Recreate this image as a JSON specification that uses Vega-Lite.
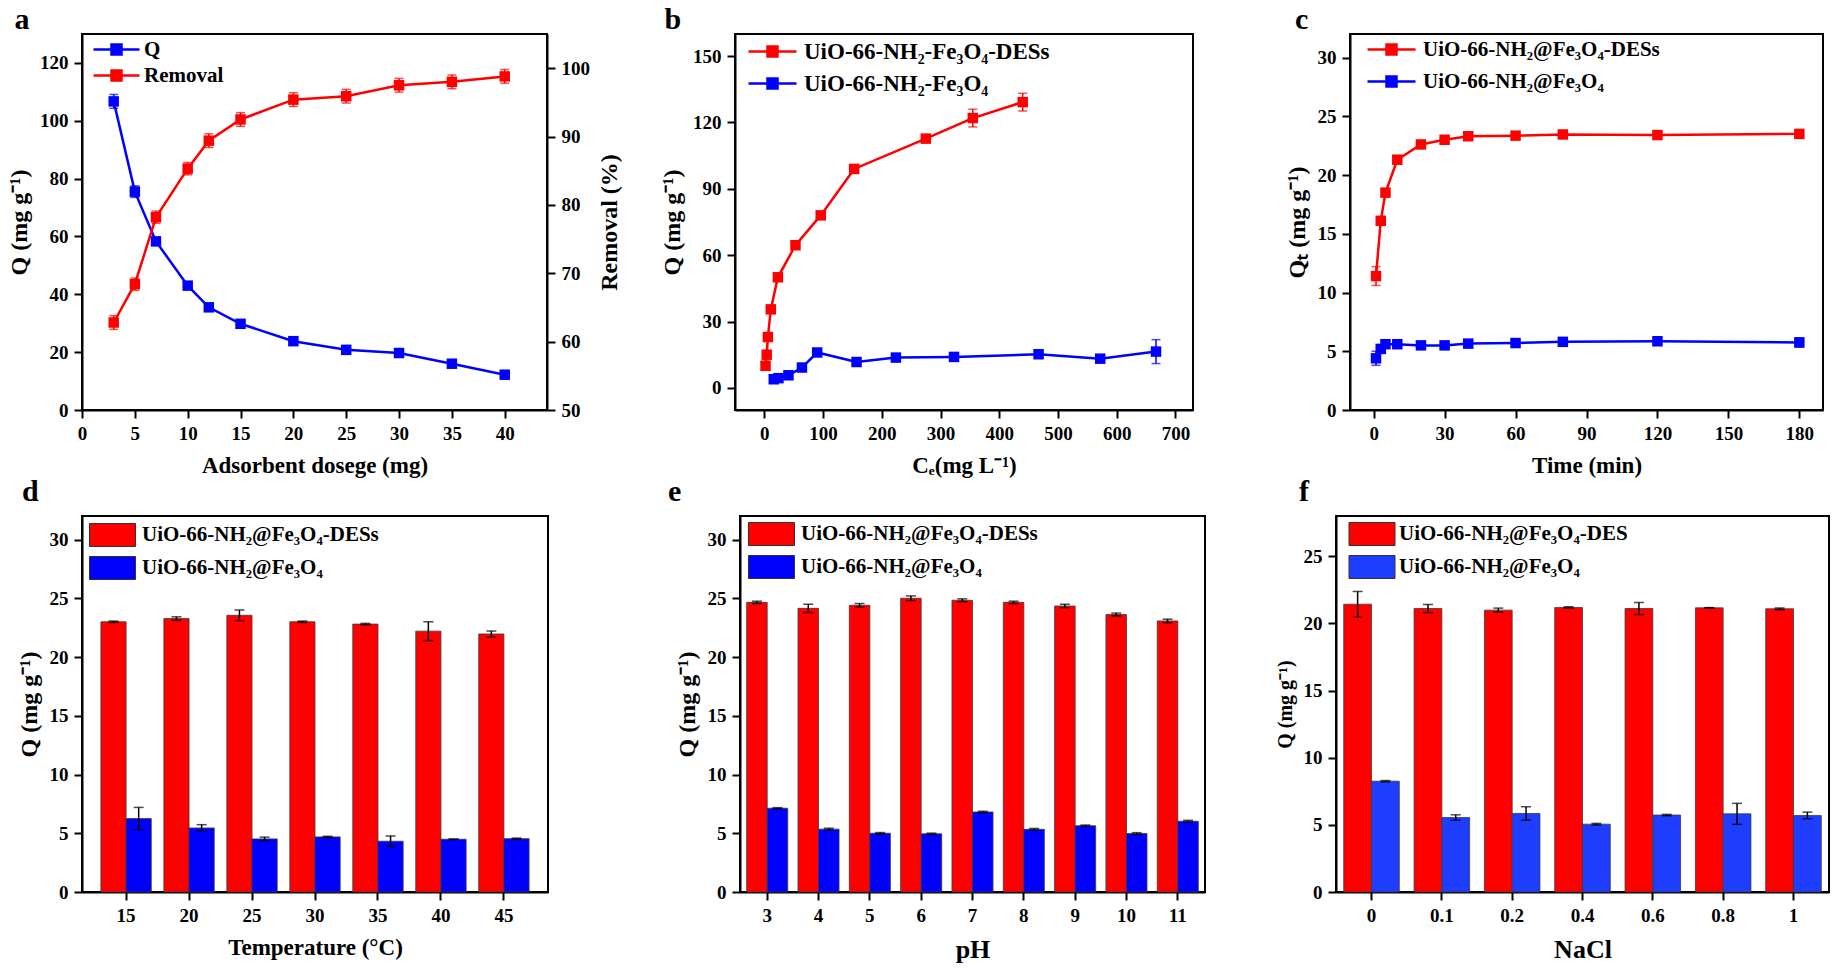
{
  "$schema": "https://vega.github.io/schema/vega-lite/v6.json",
  "background": "white",
  "padding": {"left": 6, "top": 4, "right": 0, "bottom": 0},
  "datasets": {
    "dosage": [
      {"dose": 3, "series": "Q", "value": 106.7, "err": 2.4},
      {"dose": 5, "series": "Q", "value": 75.5, "err": 2.0},
      {"dose": 7, "series": "Q", "value": 58.3, "err": 0.9},
      {"dose": 10, "series": "Q", "value": 43.0, "err": 0.8},
      {"dose": 12, "series": "Q", "value": 35.5, "err": 0.8},
      {"dose": 15, "series": "Q", "value": 29.8, "err": 0.8},
      {"dose": 20, "series": "Q", "value": 23.8, "err": 0.8},
      {"dose": 25, "series": "Q", "value": 20.8, "err": 0.8},
      {"dose": 30, "series": "Q", "value": 19.7, "err": 0.8},
      {"dose": 35, "series": "Q", "value": 16.0, "err": 0.8},
      {"dose": 40, "series": "Q", "value": 12.2, "err": 0.8},
      {"dose": 3, "series": "Removal", "value": 62.8, "err": 1.0},
      {"dose": 5, "series": "Removal", "value": 68.4, "err": 0.9},
      {"dose": 7, "series": "Removal", "value": 78.2, "err": 0.9},
      {"dose": 10, "series": "Removal", "value": 85.3, "err": 0.9},
      {"dose": 12, "series": "Removal", "value": 89.4, "err": 1.0},
      {"dose": 15, "series": "Removal", "value": 92.5, "err": 1.0},
      {"dose": 20, "series": "Removal", "value": 95.4, "err": 1.0},
      {"dose": 25, "series": "Removal", "value": 95.9, "err": 1.0},
      {"dose": 30, "series": "Removal", "value": 97.5, "err": 1.0},
      {"dose": 35, "series": "Removal", "value": 98.0, "err": 1.0},
      {"dose": 40, "series": "Removal", "value": 98.8, "err": 1.0}
    ],
    "isotherm": [
      {"ce": 2, "series": "UiO-66-NH₂-Fe₃O₄-DESs", "q": 10.0, "err": 0.5},
      {"ce": 4, "series": "UiO-66-NH₂-Fe₃O₄-DESs", "q": 15.0, "err": 0.5},
      {"ce": 6, "series": "UiO-66-NH₂-Fe₃O₄-DESs", "q": 23.0, "err": 0.5},
      {"ce": 11, "series": "UiO-66-NH₂-Fe₃O₄-DESs", "q": 35.5, "err": 0.5},
      {"ce": 23, "series": "UiO-66-NH₂-Fe₃O₄-DESs", "q": 50.0, "err": 0.5},
      {"ce": 53, "series": "UiO-66-NH₂-Fe₃O₄-DESs", "q": 64.5, "err": 0.5},
      {"ce": 96, "series": "UiO-66-NH₂-Fe₃O₄-DESs", "q": 78.0, "err": 0.5},
      {"ce": 153, "series": "UiO-66-NH₂-Fe₃O₄-DESs", "q": 99.0, "err": 0.5},
      {"ce": 275, "series": "UiO-66-NH₂-Fe₃O₄-DESs", "q": 112.7, "err": 1.0},
      {"ce": 355, "series": "UiO-66-NH₂-Fe₃O₄-DESs", "q": 122.0, "err": 4.0},
      {"ce": 440, "series": "UiO-66-NH₂-Fe₃O₄-DESs", "q": 129.2, "err": 4.0},
      {"ce": 16, "series": "UiO-66-NH₂-Fe₃O₄", "q": 3.9, "err": 0.5},
      {"ce": 24, "series": "UiO-66-NH₂-Fe₃O₄", "q": 4.4, "err": 0.5},
      {"ce": 41, "series": "UiO-66-NH₂-Fe₃O₄", "q": 5.7, "err": 0.5},
      {"ce": 64, "series": "UiO-66-NH₂-Fe₃O₄", "q": 9.2, "err": 0.5},
      {"ce": 90, "series": "UiO-66-NH₂-Fe₃O₄", "q": 16.0, "err": 0.5},
      {"ce": 157, "series": "UiO-66-NH₂-Fe₃O₄", "q": 11.7, "err": 0.5},
      {"ce": 224, "series": "UiO-66-NH₂-Fe₃O₄", "q": 13.7, "err": 0.5},
      {"ce": 323, "series": "UiO-66-NH₂-Fe₃O₄", "q": 14.0, "err": 0.5},
      {"ce": 467, "series": "UiO-66-NH₂-Fe₃O₄", "q": 15.2, "err": 0.5},
      {"ce": 572, "series": "UiO-66-NH₂-Fe₃O₄", "q": 13.2, "err": 0.5},
      {"ce": 667, "series": "UiO-66-NH₂-Fe₃O₄", "q": 16.4, "err": 5.4}
    ],
    "kinetics": [
      {"t": 1, "series": "UiO-66-NH₂@Fe₃O₄-DESs", "q": 11.4, "err": 0.8},
      {"t": 3, "series": "UiO-66-NH₂@Fe₃O₄-DESs", "q": 16.1, "err": 0.3},
      {"t": 5, "series": "UiO-66-NH₂@Fe₃O₄-DESs", "q": 18.5, "err": 0.2},
      {"t": 10, "series": "UiO-66-NH₂@Fe₃O₄-DESs", "q": 21.3, "err": 0.3},
      {"t": 20, "series": "UiO-66-NH₂@Fe₃O₄-DESs", "q": 22.6, "err": 0.2},
      {"t": 30, "series": "UiO-66-NH₂@Fe₃O₄-DESs", "q": 23.0, "err": 0.2},
      {"t": 40, "series": "UiO-66-NH₂@Fe₃O₄-DESs", "q": 23.3, "err": 0.2},
      {"t": 60, "series": "UiO-66-NH₂@Fe₃O₄-DESs", "q": 23.35, "err": 0.2},
      {"t": 80, "series": "UiO-66-NH₂@Fe₃O₄-DESs", "q": 23.45, "err": 0.2},
      {"t": 120, "series": "UiO-66-NH₂@Fe₃O₄-DESs", "q": 23.4, "err": 0.2},
      {"t": 180, "series": "UiO-66-NH₂@Fe₃O₄-DESs", "q": 23.5, "err": 0.2},
      {"t": 1, "series": "UiO-66-NH₂@Fe₃O₄", "q": 4.4, "err": 0.6},
      {"t": 3, "series": "UiO-66-NH₂@Fe₃O₄", "q": 5.2, "err": 0.3},
      {"t": 5, "series": "UiO-66-NH₂@Fe₃O₄", "q": 5.6, "err": 0.3},
      {"t": 10, "series": "UiO-66-NH₂@Fe₃O₄", "q": 5.6, "err": 0.3},
      {"t": 20, "series": "UiO-66-NH₂@Fe₃O₄", "q": 5.5, "err": 0.2},
      {"t": 30, "series": "UiO-66-NH₂@Fe₃O₄", "q": 5.5, "err": 0.2},
      {"t": 40, "series": "UiO-66-NH₂@Fe₃O₄", "q": 5.65, "err": 0.2},
      {"t": 60, "series": "UiO-66-NH₂@Fe₃O₄", "q": 5.7, "err": 0.2},
      {"t": 80, "series": "UiO-66-NH₂@Fe₃O₄", "q": 5.8, "err": 0.2},
      {"t": 120, "series": "UiO-66-NH₂@Fe₃O₄", "q": 5.85, "err": 0.2},
      {"t": 180, "series": "UiO-66-NH₂@Fe₃O₄", "q": 5.75, "err": 0.4}
    ],
    "temperature": [
      {"temp": "15", "series": "UiO-66-NH₂@Fe₃O₄-DESs", "q": 23.0, "err": 0.06},
      {"temp": "15", "series": "UiO-66-NH₂@Fe₃O₄", "q": 6.25, "err": 0.95},
      {"temp": "20", "series": "UiO-66-NH₂@Fe₃O₄-DESs", "q": 23.27, "err": 0.15},
      {"temp": "20", "series": "UiO-66-NH₂@Fe₃O₄", "q": 5.45, "err": 0.28},
      {"temp": "25", "series": "UiO-66-NH₂@Fe₃O₄-DESs", "q": 23.55, "err": 0.45},
      {"temp": "25", "series": "UiO-66-NH₂@Fe₃O₄", "q": 4.52, "err": 0.15},
      {"temp": "30", "series": "UiO-66-NH₂@Fe₃O₄-DESs", "q": 23.0, "err": 0.06},
      {"temp": "30", "series": "UiO-66-NH₂@Fe₃O₄", "q": 4.69, "err": 0.05},
      {"temp": "35", "series": "UiO-66-NH₂@Fe₃O₄-DESs", "q": 22.8, "err": 0.06},
      {"temp": "35", "series": "UiO-66-NH₂@Fe₃O₄", "q": 4.32, "err": 0.45},
      {"temp": "40", "series": "UiO-66-NH₂@Fe₃O₄-DESs", "q": 22.2, "err": 0.8},
      {"temp": "40", "series": "UiO-66-NH₂@Fe₃O₄", "q": 4.49, "err": 0.03},
      {"temp": "45", "series": "UiO-66-NH₂@Fe₃O₄-DESs", "q": 21.96, "err": 0.25},
      {"temp": "45", "series": "UiO-66-NH₂@Fe₃O₄", "q": 4.54, "err": 0.05}
    ],
    "ph": [
      {"ph": "3", "series": "UiO-66-NH₂@Fe₃O₄-DESs", "q": 24.65, "err": 0.1},
      {"ph": "3", "series": "UiO-66-NH₂@Fe₃O₄", "q": 7.13, "err": 0.05},
      {"ph": "4", "series": "UiO-66-NH₂@Fe₃O₄-DESs", "q": 24.14, "err": 0.35},
      {"ph": "4", "series": "UiO-66-NH₂@Fe₃O₄", "q": 5.35, "err": 0.08},
      {"ph": "5", "series": "UiO-66-NH₂@Fe₃O₄-DESs", "q": 24.4, "err": 0.15},
      {"ph": "5", "series": "UiO-66-NH₂@Fe₃O₄", "q": 5.0, "err": 0.06},
      {"ph": "6", "series": "UiO-66-NH₂@Fe₃O₄-DESs", "q": 25.0, "err": 0.2},
      {"ph": "6", "series": "UiO-66-NH₂@Fe₃O₄", "q": 4.95, "err": 0.06},
      {"ph": "7", "series": "UiO-66-NH₂@Fe₃O₄-DESs", "q": 24.83, "err": 0.12},
      {"ph": "7", "series": "UiO-66-NH₂@Fe₃O₄", "q": 6.81, "err": 0.06},
      {"ph": "8", "series": "UiO-66-NH₂@Fe₃O₄-DESs", "q": 24.65, "err": 0.1},
      {"ph": "8", "series": "UiO-66-NH₂@Fe₃O₄", "q": 5.33, "err": 0.08},
      {"ph": "9", "series": "UiO-66-NH₂@Fe₃O₄-DESs", "q": 24.34, "err": 0.15},
      {"ph": "9", "series": "UiO-66-NH₂@Fe₃O₄", "q": 5.64, "err": 0.06},
      {"ph": "10", "series": "UiO-66-NH₂@Fe₃O₄-DESs", "q": 23.62, "err": 0.12},
      {"ph": "10", "series": "UiO-66-NH₂@Fe₃O₄", "q": 4.97, "err": 0.08},
      {"ph": "11", "series": "UiO-66-NH₂@Fe₃O₄-DESs", "q": 23.07, "err": 0.15},
      {"ph": "11", "series": "UiO-66-NH₂@Fe₃O₄", "q": 6.02, "err": 0.08}
    ],
    "nacl": [
      {"nacl": "0", "series": "UiO-66-NH₂@Fe₃O₄-DES", "q": 21.43, "err": 0.95},
      {"nacl": "0", "series": "UiO-66-NH₂@Fe₃O₄", "q": 8.25, "err": 0.05},
      {"nacl": "0.1", "series": "UiO-66-NH₂@Fe₃O₄-DES", "q": 21.11, "err": 0.3},
      {"nacl": "0.1", "series": "UiO-66-NH₂@Fe₃O₄", "q": 5.55, "err": 0.2},
      {"nacl": "0.2", "series": "UiO-66-NH₂@Fe₃O₄-DES", "q": 20.99, "err": 0.15},
      {"nacl": "0.2", "series": "UiO-66-NH₂@Fe₃O₄", "q": 5.85, "err": 0.5},
      {"nacl": "0.4", "series": "UiO-66-NH₂@Fe₃O₄-DES", "q": 21.19, "err": 0.05},
      {"nacl": "0.4", "series": "UiO-66-NH₂@Fe₃O₄", "q": 5.05, "err": 0.06},
      {"nacl": "0.6", "series": "UiO-66-NH₂@Fe₃O₄-DES", "q": 21.11, "err": 0.45},
      {"nacl": "0.6", "series": "UiO-66-NH₂@Fe₃O₄", "q": 5.73, "err": 0.05},
      {"nacl": "0.8", "series": "UiO-66-NH₂@Fe₃O₄-DES", "q": 21.16, "err": 0.02},
      {"nacl": "0.8", "series": "UiO-66-NH₂@Fe₃O₄", "q": 5.82, "err": 0.78},
      {"nacl": "1", "series": "UiO-66-NH₂@Fe₃O₄-DES", "q": 21.09, "err": 0.06},
      {"nacl": "1", "series": "UiO-66-NH₂@Fe₃O₄", "q": 5.7, "err": 0.25}
    ]
  },
  "bounds": "flush",
  "spacing": 482,
  "resolve": {"scale": {"color": "independent", "xOffset": "independent"}, "legend": {"color": "independent"}},
  "vconcat": [
    {
      "bounds": "flush",
      "spacing": 188,
      "resolve": {"scale": {"color": "independent", "xOffset": "independent"}, "legend": {"color": "independent"}},
      "hconcat": [
        {
          "width": 465,
          "height": 376,
          "title": {"text": "a", "dx": 7, "offset": -1},
          "data": {"name": "dosage"},
          "encoding": {
            "x": {"field": "dose", "type": "quantitative", "scale": {"domain": [0, 44], "nice": false, "zero": false}, "axis": {"values": [0, 5, 10, 15, 20, 25, 30, 35, 40], "title": "Adsorbent dosege (mg)"}},
            "color": {
              "field": "series", "type": "nominal",
              "scale": {"domain": ["Q", "Removal"], "range": ["#0000FF", "#FF0000"]},
              "legend": {
                "title": null, "orient": "none", "legendX": 23, "legendY": 4,
                "symbolType": "M-2.3,0H2.3M-0.5,-0.5H0.5V0.5H-0.5Z", "symbolSize": 400, "symbolStrokeWidth": 2.5,
                "labelOffset": 16, "rowPadding": 4, "labelFontSize": 21,
                "encode": {"symbols": {"update": {
                  "fill": {"signal": "datum.value === 'Q' ? '#0000FF' : '#FF0000'"},
                  "stroke": {"signal": "datum.value === 'Q' ? '#0000FF' : '#FF0000'"}
                }}}
              }
            }
          },
          "layer": [
            {
              "transform": [{"filter": "datum.series === 'Q'"}],
              "encoding": {"y": {"field": "value", "type": "quantitative", "scale": {"domain": [0, 130], "nice": false}, "axis": {"values": [0, 20, 40, 60, 80, 100, 120], "title": "Q (mg g⁻¹)", "titleFontSize": 24}}},
              "layer": [
                {"mark": {"type": "errorbar", "thickness": 1.5, "ticks": {"size": 9, "thickness": 1.5}}, "encoding": {"yError": {"field": "err"}}},
                {"mark": {"type": "line", "strokeWidth": 2.5, "point": {"shape": "square", "size": 110, "filled": true, "opacity": 1}}}
              ]
            },
            {
              "transform": [{"filter": "datum.series === 'Removal'"}],
              "encoding": {"y": {"field": "value", "type": "quantitative", "scale": {"domain": [50, 105], "nice": false, "zero": false}, "axis": {"orient": "right", "values": [50, 60, 70, 80, 90, 100], "title": "Removal (%)", "titleAngle": 270, "titleBaseline": "top", "titleFontSize": 24}}},
              "layer": [
                {"mark": {"type": "errorbar", "thickness": 1.5, "ticks": {"size": 9, "thickness": 1.5}}, "encoding": {"yError": {"field": "err"}}},
                {"mark": {"type": "line", "strokeWidth": 2.5, "point": {"shape": "square", "size": 110, "filled": true, "opacity": 1}}}
              ]
            }
          ],
          "resolve": {"scale": {"y": "independent"}, "axis": {"y": "independent"}}
        },
        {
          "bounds": "flush",
          "spacing": 157,
          "resolve": {"scale": {"color": "independent", "xOffset": "independent"}, "legend": {"color": "independent"}},
          "hconcat": [
            {
              "width": 458,
              "height": 376,
              "title": {"text": "b", "dx": 4, "offset": -1},
              "data": {"name": "isotherm"},
              "encoding": {
                "x": {"field": "ce", "type": "quantitative", "scale": {"domain": [-50, 730], "nice": false, "zero": false}, "axis": {"values": [0, 100, 200, 300, 400, 500, 600, 700], "title": "Cₑ(mg L⁻¹)"}},
                "y": {"field": "q", "type": "quantitative", "scale": {"domain": [-10, 160], "nice": false, "zero": false}, "axis": {"values": [0, 30, 60, 90, 120, 150], "title": "Q (mg g⁻¹)", "titleFontSize": 24}},
                "color": {
                  "field": "series", "type": "nominal",
                  "scale": {"domain": ["UiO-66-NH₂-Fe₃O₄-DESs", "UiO-66-NH₂-Fe₃O₄"], "range": ["#FF0000", "#0000FF"]},
                  "legend": {
                    "title": null, "orient": "none", "legendX": 26, "legendY": 6,
                    "symbolType": "M-2.4,0H2.4M-0.5,-0.5H0.5V0.5H-0.5Z", "symbolSize": 400, "symbolStrokeWidth": 2.5,
                    "labelOffset": 20, "rowPadding": 8, "labelFontSize": 23,
                    "encode": {"symbols": {"update": {
                      "fill": {"signal": "indexof(datum.value, 'DES') >= 0 ? '#FF0000' : '#0000FF'"},
                      "stroke": {"signal": "indexof(datum.value, 'DES') >= 0 ? '#FF0000' : '#0000FF'"}
                    }}}
                  }
                }
              },
              "layer": [
                {"mark": {"type": "errorbar", "thickness": 1.5, "ticks": {"size": 9, "thickness": 1.5}}, "encoding": {"yError": {"field": "err"}}},
                {"mark": {"type": "line", "strokeWidth": 2.5, "point": {"shape": "square", "size": 110, "filled": true, "opacity": 1}}}
              ]
            },
            {
              "width": 473,
              "height": 376,
              "title": {"text": "c", "dx": 10, "offset": -1},
              "data": {"name": "kinetics"},
              "encoding": {
                "x": {"field": "t", "type": "quantitative", "scale": {"domain": [-10, 190], "nice": false, "zero": false}, "axis": {"values": [0, 30, 60, 90, 120, 150, 180], "title": "Time (min)"}},
                "y": {"field": "q", "type": "quantitative", "scale": {"domain": [0, 32], "nice": false}, "axis": {"values": [0, 5, 10, 15, 20, 25, 30], "title": "Qₜ (mg g⁻¹)", "titleFontSize": 24}},
                "color": {
                  "field": "series", "type": "nominal",
                  "scale": {"domain": ["UiO-66-NH₂@Fe₃O₄-DESs", "UiO-66-NH₂@Fe₃O₄"], "range": ["#FF0000", "#0000FF"]},
                  "legend": {
                    "title": null, "orient": "none", "legendX": 30, "legendY": 4,
                    "symbolType": "M-2.4,0H2.4M-0.5,-0.5H0.5V0.5H-0.5Z", "symbolSize": 400, "symbolStrokeWidth": 2.5,
                    "labelOffset": 20, "rowPadding": 10, "labelFontSize": 21,
                    "encode": {"symbols": {"update": {
                      "fill": {"signal": "indexof(datum.value, 'DES') >= 0 ? '#FF0000' : '#0000FF'"},
                      "stroke": {"signal": "indexof(datum.value, 'DES') >= 0 ? '#FF0000' : '#0000FF'"}
                    }}}
                  }
                }
              },
              "layer": [
                {"mark": {"type": "errorbar", "thickness": 1.5, "ticks": {"size": 9, "thickness": 1.5}}, "encoding": {"yError": {"field": "err"}}},
                {"mark": {"type": "line", "strokeWidth": 2.5, "point": {"shape": "square", "size": 110, "filled": true, "opacity": 1}}}
              ]
            }
          ]
        }
      ]
    },
    {
      "bounds": "flush",
      "spacing": 192,
      "resolve": {"scale": {"color": "independent", "xOffset": "independent"}, "legend": {"color": "independent"}},
      "hconcat": [
        {
          "width": 466,
          "height": 376,
          "title": {"text": "d", "dx": 5, "offset": 9},
          "data": {"name": "temperature"},
          "encoding": {
            "x": {"field": "temp", "type": "ordinal", "sort": null, "scale": {"paddingInner": 0.2, "paddingOuter": 0.3}, "axis": {"labelAngle": 0, "title": "Temperature (°C)"}},
            "xOffset": {"field": "series", "type": "nominal", "sort": null, "scale": {"domain": ["UiO-66-NH₂@Fe₃O₄-DESs", "UiO-66-NH₂@Fe₃O₄"]}},
            "y": {"field": "q", "type": "quantitative", "scale": {"domain": [0, 32], "nice": false}, "axis": {"values": [0, 5, 10, 15, 20, 25, 30], "title": "Q (mg g⁻¹)", "titleFontSize": 24}}
          },
          "layer": [
            {
              "mark": {"type": "bar", "stroke": "#3a3a3a", "strokeWidth": 0.8},
              "encoding": {"color": {
                "field": "series", "type": "nominal",
                "scale": {"domain": ["UiO-66-NH₂@Fe₃O₄-DESs", "UiO-66-NH₂@Fe₃O₄"], "range": ["#FF0000", "#0000FF"]},
                "legend": {"title": null, "orient": "none", "legendX": 18.5, "legendY": 7, "symbolType": "M-2,-1H2V1H-2Z", "symbolSize": 529, "symbolStrokeColor": "#333333", "symbolStrokeWidth": 1, "labelOffset": 17.5, "rowPadding": 5}
              }}
            },
            {"mark": {"type": "errorbar", "color": "black", "thickness": 1.5, "ticks": {"size": 10, "thickness": 1.5}}, "encoding": {"yError": {"field": "err"}}}
          ]
        },
        {
          "bounds": "flush",
          "spacing": 131,
          "resolve": {"scale": {"color": "independent", "xOffset": "independent"}, "legend": {"color": "independent"}},
          "hconcat": [
            {
              "width": 465,
              "height": 376,
              "title": {"text": "e", "dx": -7, "offset": 9},
              "data": {"name": "ph"},
              "encoding": {
                "x": {"field": "ph", "type": "ordinal", "sort": null, "scale": {"paddingInner": 0.2, "paddingOuter": 0.13}, "axis": {"labelAngle": 0, "title": "pH", "titleFontSize": 26}},
                "xOffset": {"field": "series", "type": "nominal", "sort": null, "scale": {"domain": ["UiO-66-NH₂@Fe₃O₄-DESs", "UiO-66-NH₂@Fe₃O₄"]}},
                "y": {"field": "q", "type": "quantitative", "scale": {"domain": [0, 32], "nice": false}, "axis": {"values": [0, 5, 10, 15, 20, 25, 30], "title": "Q (mg g⁻¹)", "titleFontSize": 24}}
              },
              "layer": [
                {
                  "mark": {"type": "bar", "stroke": "#3a3a3a", "strokeWidth": 0.8},
                  "encoding": {"color": {
                    "field": "series", "type": "nominal",
                    "scale": {"domain": ["UiO-66-NH₂@Fe₃O₄-DESs", "UiO-66-NH₂@Fe₃O₄"], "range": ["#FF0000", "#0000FF"]},
                    "legend": {"title": null, "orient": "none", "legendX": 19.5, "legendY": 6, "symbolType": "M-2,-1H2V1H-2Z", "symbolSize": 529, "symbolStrokeColor": "#333333", "symbolStrokeWidth": 1, "labelOffset": 17.5, "rowPadding": 5}
                  }}
                },
                {"mark": {"type": "errorbar", "color": "black", "thickness": 1.5, "ticks": {"size": 10, "thickness": 1.5}}, "encoding": {"yError": {"field": "err"}}}
              ]
            },
            {
              "width": 493,
              "height": 376,
              "title": {"text": "f", "dx": 24, "offset": 9},
              "data": {"name": "nacl"},
              "encoding": {
                "x": {"field": "nacl", "type": "ordinal", "sort": null, "scale": {"paddingInner": 0.21, "paddingOuter": 0.11}, "axis": {"labelAngle": 0, "title": "NaCl", "titleFontSize": 26}},
                "xOffset": {"field": "series", "type": "nominal", "sort": null, "scale": {"domain": ["UiO-66-NH₂@Fe₃O₄-DES", "UiO-66-NH₂@Fe₃O₄"]}},
                "y": {"field": "q", "type": "quantitative", "scale": {"domain": [0, 28], "nice": false}, "axis": {"values": [0, 5, 10, 15, 20, 25], "title": "Q (mg g⁻¹)", "titleFontSize": 20}}
              },
              "layer": [
                {
                  "mark": {"type": "bar", "stroke": "#3a3a3a", "strokeWidth": 0.8},
                  "encoding": {"color": {
                    "field": "series", "type": "nominal",
                    "scale": {"domain": ["UiO-66-NH₂@Fe₃O₄-DES", "UiO-66-NH₂@Fe₃O₄"], "range": ["#FF0000", "#1F3DFF"]},
                    "legend": {"title": null, "orient": "none", "legendX": 24, "legendY": 6, "symbolType": "M-2,-1H2V1H-2Z", "symbolSize": 529, "symbolStrokeColor": "#333333", "symbolStrokeWidth": 1, "labelOffset": 15, "rowPadding": 5}
                  }}
                },
                {"mark": {"type": "errorbar", "color": "black", "thickness": 1.5, "ticks": {"size": 10, "thickness": 1.5}}, "encoding": {"yError": {"field": "err"}}}
              ]
            }
          ]
        }
      ]
    }
  ],
  "config": {
    "font": "Liberation Serif",
    "view": {"stroke": "black", "strokeWidth": 2},
    "axis": {
      "domainColor": "black", "domainWidth": 2, "tickColor": "black", "tickWidth": 2, "tickSize": 8,
      "labelFont": "Liberation Serif", "labelFontWeight": "bold", "labelFontSize": 19, "labelColor": "black",
      "labelPadding": 6, "labelFlush": false, "labelOverlap": false,
      "titleFont": "Liberation Serif", "titleFontWeight": "bold", "titleFontSize": 23, "titleColor": "black",
      "titlePadding": 8, "grid": false
    },
    "axisX": {"titlePadding": 11},
    "legend": {"labelFont": "Liberation Serif", "labelFontSize": 21, "labelFontWeight": "bold", "labelColor": "black", "padding": 0, "labelLimit": 500, "symbolOpacity": 1},
    "title": {"font": "Liberation Serif", "fontSize": 30, "fontWeight": "bold", "anchor": "start", "frame": "bounds", "baseline": "alphabetic", "color": "black"}
  }
}
